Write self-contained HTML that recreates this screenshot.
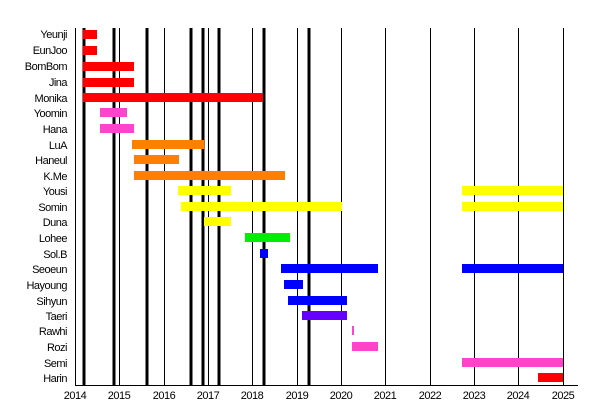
<!DOCTYPE html><html><head><style>body{margin:0;background:#fff}svg{display:block}text{font-family:"Liberation Sans",sans-serif;font-size:11px;letter-spacing:-0.5px}</style></head><body>
<svg width="600" height="400" xmlns="http://www.w3.org/2000/svg">
<g stroke="#000" stroke-width="1">
<line x1="75.5" y1="28" x2="75.5" y2="385"/><line x1="119.5" y1="28" x2="119.5" y2="385"/><line x1="164.5" y1="28" x2="164.5" y2="385"/><line x1="208.5" y1="28" x2="208.5" y2="385"/><line x1="252.5" y1="28" x2="252.5" y2="385"/><line x1="297.5" y1="28" x2="297.5" y2="385"/><line x1="341.5" y1="28" x2="341.5" y2="385"/><line x1="385.5" y1="28" x2="385.5" y2="385"/><line x1="430.5" y1="28" x2="430.5" y2="385"/><line x1="474.5" y1="28" x2="474.5" y2="385"/><line x1="518.5" y1="28" x2="518.5" y2="385"/><line x1="563.5" y1="28" x2="563.5" y2="385"/>
<line x1="75" y1="385.5" x2="578" y2="385.5"/>
</g>
<g stroke="#000" stroke-width="3">
<line x1="84" y1="28" x2="84" y2="385"/><line x1="114" y1="28" x2="114" y2="385"/><line x1="147" y1="28" x2="147" y2="385"/><line x1="191" y1="28" x2="191" y2="385"/><line x1="203" y1="28" x2="203" y2="385"/><line x1="219" y1="28" x2="219" y2="385"/><line x1="264" y1="28" x2="264" y2="385"/><line x1="309" y1="28" x2="309" y2="385"/>
</g>
<g>
<rect x="83" y="30" width="14" height="9" fill="#f00"/>
<rect x="83" y="46" width="14" height="9" fill="#f00"/>
<rect x="83" y="62" width="51" height="9" fill="#f00"/>
<rect x="83" y="78" width="51" height="9" fill="#f00"/>
<rect x="83" y="93" width="180" height="9" fill="#f00"/>
<rect x="100" y="108" width="27" height="9" fill="#f4c"/>
<rect x="100" y="124" width="34" height="9" fill="#f4c"/>
<rect x="132" y="140" width="72" height="9" fill="#ff8000"/>
<rect x="134" y="155" width="45" height="9" fill="#ff8000"/>
<rect x="134" y="171" width="151" height="9" fill="#ff8000"/>
<rect x="178" y="186" width="53" height="9" fill="#ff0"/><rect x="462" y="186" width="101" height="9" fill="#ff0"/>
<rect x="181" y="202" width="161" height="9" fill="#ff0"/><rect x="462" y="202" width="101" height="9" fill="#ff0"/>
<rect x="204" y="217" width="27" height="9" fill="#ff0"/>
<rect x="245" y="233" width="45" height="9" fill="#0e0"/>
<rect x="260" y="249" width="8" height="9" fill="#00f"/>
<rect x="281" y="264" width="97" height="9" fill="#00f"/><rect x="462" y="264" width="101" height="9" fill="#00f"/>
<rect x="284" y="280" width="19" height="9" fill="#00f"/>
<rect x="288" y="296" width="59" height="9" fill="#00f"/>
<rect x="302" y="311" width="45" height="9" fill="#60f"/>
<rect x="352" y="326" width="2" height="9" fill="#f4c"/>
<rect x="352" y="342" width="26" height="9" fill="#f4c"/>
<rect x="462" y="358" width="101" height="9" fill="#f4c"/>
<rect x="538" y="373" width="25" height="9" fill="#f00"/>
</g>
<g text-anchor="end">
<text x="67" y="38">Yeunji</text><text x="67" y="54">EunJoo</text><text x="67" y="70">BomBom</text><text x="67" y="86">Jina</text><text x="67" y="102">Monika</text><text x="67" y="117">Yoomin</text><text x="67" y="133">Hana</text><text x="67" y="149">LuA</text><text x="67" y="164">Haneul</text><text x="67" y="180">K.Me</text><text x="67" y="195">Yousi</text><text x="67" y="211">Somin</text><text x="67" y="226">Duna</text><text x="67" y="242">Lohee</text><text x="67" y="258">Sol.B</text><text x="67" y="273">Seoeun</text><text x="67" y="289">Hayoung</text><text x="67" y="305">Sihyun</text><text x="67" y="320">Taeri</text><text x="67" y="335">Rawhi</text><text x="67" y="351">Rozi</text><text x="67" y="367">Semi</text><text x="67" y="382">Harin</text>
</g>
<g text-anchor="middle">
<text x="75" y="399">2014</text><text x="119" y="399">2015</text><text x="164" y="399">2016</text><text x="208" y="399">2017</text><text x="252" y="399">2018</text><text x="297" y="399">2019</text><text x="341" y="399">2020</text><text x="385" y="399">2021</text><text x="430" y="399">2022</text><text x="474" y="399">2023</text><text x="518" y="399">2024</text><text x="563" y="399">2025</text>
</g>
</svg></body></html>
